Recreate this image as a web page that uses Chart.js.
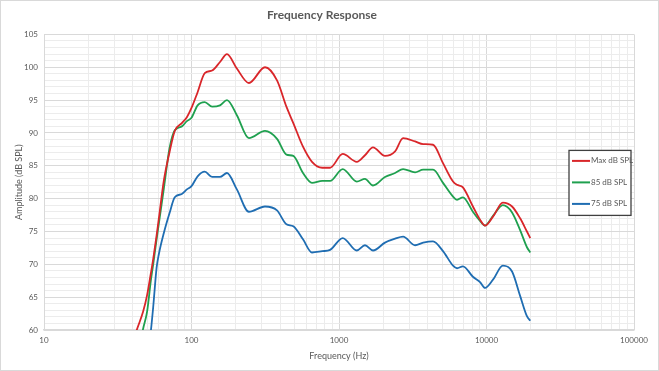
<!DOCTYPE html>
<html>
<head>
<meta charset="utf-8">
<script src="https://cdn.jsdelivr.net/npm/chart.js@4/dist/chart.umd.min.js"></script>
<style>
html,body{margin:0;padding:0;background:#fff;}
#wrap{width:659px;height:371px;box-sizing:border-box;border:1px solid #d9d9d9;position:relative;}
canvas{display:block;}
</style>
</head>
<body>
<div id="wrap"><canvas id="c" width="657" height="369"></canvas></div>
<script>
const freqs = [40,43,47,50,53,55,58,60,65,71,77,86,93,100,110,123,138,156,174,203,245,315,380,440,490,570,656,770,870,1060,1320,1500,1700,2050,2400,2720,3280,3720,4340,5070,5930,6310,6920,8090,9040,9770,11100,12900,14900,16900,18800,19800];
const maxSpl = [58.3,60.3,62.8,65.3,68.6,70.8,74.4,76.9,82.8,87.1,90.3,91.5,92.4,93.8,96.2,99.1,99.5,100.8,102,99.8,97.6,100,98,94,91.5,87.9,85.6,84.7,84.7,86.8,85.6,86.6,87.8,86.5,87.2,89.2,88.7,88.3,88.2,85.4,82.6,82.1,81.7,78.8,76.8,75.9,77.3,79.4,78.8,77,75,74];
const spl85 = [53,56,60.2,62.8,67.5,70,73.8,76.1,81.6,87.7,90.4,91,91.8,92.3,94.2,94.7,94,94.2,95,92.7,89.2,90.3,89.1,86.7,86.5,83.9,82.4,82.7,82.7,84.5,82.6,83,82,83.3,83.9,84.5,84,84.4,84.4,82.4,80.3,79.8,80.2,78,76.6,75.9,77.4,79,77.9,75.2,72.6,71.8];
const spl75 = [40,46,52,55.5,59.8,63.5,69.5,71.5,74.8,77.8,80.2,80.7,81.4,81.9,83.4,84.1,83.3,83.3,83.9,81.4,78,78.8,78.2,76.1,75.8,73.8,71.8,72,72.2,74,72.1,72.9,72.1,73.3,73.9,74.2,72.9,73.3,73.5,72,69.8,69.4,69.7,68.1,67.3,66.4,67.7,69.8,68.9,65.2,62.1,61.4];
const seriesNames = ['Max dB SPL','85 dB SPL','75 dB SPL'];
const seriesColors = ['#d9262a','#1fa04f','#1f6db2'];
const xTickLabels = [10,100,1000,10000,100000];
const yTickLabels = [60,65,70,75,80,85,90,95,100,105];

const FONT = 'Lato, "Open Sans", sans-serif';
const TXT = '#595959';

function pts(vals){ return freqs.map((f,i)=>({x:f,y:vals[i]})); }
const allVals = [maxSpl, spl85, spl75];

const legendPlugin = {
  id:'boxLegend',
  afterDraw(chart){
    const ctx = chart.ctx, ca = chart.chartArea;
    const bx = ca.right - 65, by = ca.top + 116, bw = 62, bh = 65;
    ctx.save();
    ctx.fillStyle = '#fff';
    ctx.fillRect(bx,by,bw,bh);
    ctx.strokeStyle = '#404040';
    ctx.lineWidth = 1.3;
    ctx.strokeRect(bx,by,bw,bh);
    ctx.font = '8px ' + FONT;
    ctx.textBaseline = 'middle';
    chart.data.datasets.forEach((ds,i)=>{
      const y = by + 10.5 + i*21.5;
      ctx.strokeStyle = ds.borderColor;
      ctx.lineWidth = 2;
      ctx.beginPath(); ctx.moveTo(bx+3,y); ctx.lineTo(bx+21,y); ctx.stroke();
      ctx.fillStyle = TXT;
      ctx.fillText(ds.label, bx+22, y);
    });
    ctx.restore();
  }
};

new Chart(document.getElementById('c'), {
  type:'line',
  data:{
    datasets: allVals.map((v,i)=>({
      label: seriesNames[i],
      data: pts(v),
      borderColor: seriesColors[i],
      backgroundColor: seriesColors[i],
      borderWidth: 1.8,
      pointRadius: 0,
      cubicInterpolationMode: 'monotone',
      fill:false
    }))
  },
  options:{
    responsive:false,
    animation:false,
    events:[],
    layout:{padding:{left:9,right:24,top:0,bottom:4}},
    plugins:{
      legend:{display:false},
      tooltip:{enabled:false},
      title:{display:true,text:'Frequency Response',color:TXT,
        font:{family:FONT,size:12,weight:'bold'},padding:{top:7,bottom:12}}
    },
    scales:{
      x:{
        type:'logarithmic', min:10, max:100000,
        afterBuildTicks(s){
          const t=[];
          for(let e=1;e<5;e++){ for(let m=1;m<10;m++){ t.push({value:m*Math.pow(10,e)}); } }
          t.push({value:100000});
          s.ticks=t;
        },
        afterFit(s){ s.height = 36; },
        grid:{drawTicks:false,
          color:(c)=> xTickLabels.includes(c.tick.value) ? '#d9d9d9' : '#ececec',
          lineWidth:1},
        border:{color:'#d9d9d9',width:1.6},
        ticks:{padding:6,color:TXT,font:{family:FONT,size:8},autoSkip:false,maxRotation:0,
          callback:(v)=> xTickLabels.includes(v) ? String(v) : ''},
        title:{display:true,text:'Frequency (Hz)',color:TXT,font:{family:FONT,size:9},padding:{top:3,bottom:5}}
      },
      y:{
        min:60, max:105,
        afterBuildTicks(s){
          const t=[]; for(let v=60; v<=105; v++) t.push({value:v}); s.ticks=t;
        },
        afterFit(s){ s.width = 34; },
        grid:{drawTicks:false,
          color:(c)=> yTickLabels.includes(c.tick.value) ? '#d9d9d9' : '#ececec',
          lineWidth:1},
        border:{color:'#d9d9d9',width:1},
        ticks:{padding:6,color:TXT,font:{family:FONT,size:8},autoSkip:false,
          callback:(v)=> yTickLabels.includes(v) ? String(v) : ''},
        title:{display:true,text:'Amplitude (dB SPL)',color:TXT,font:{family:FONT,size:9},padding:{top:4,bottom:0}}
      }
    }
  },
  plugins:[legendPlugin]
});
</script>
</body>
</html>
